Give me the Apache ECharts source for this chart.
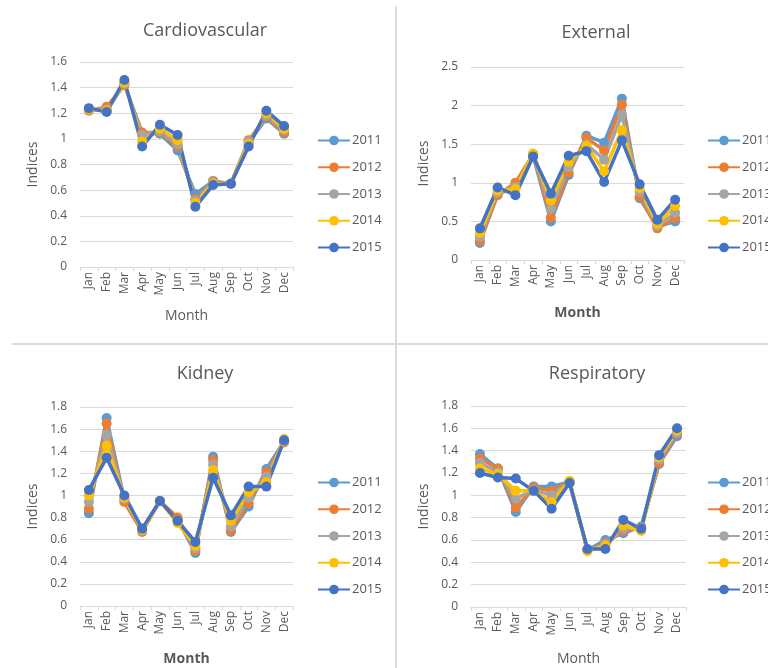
<!DOCTYPE html>
<html>
<head>
<meta charset="utf-8">
<script src="https://cdn.jsdelivr.net/npm/echarts@6/dist/echarts.min.js"></script>
<style>
  html, body { margin: 0; padding: 0; background: #fff; }
  #chart { width: 768px; height: 668px; }
</style>
</head>
<body>
<div id="chart"></div>
<script>
// months on every x axis
const months = ['Jan', 'Feb', 'Mar', 'Apr', 'May', 'Jun', 'Jul', 'Aug', 'Sep', 'Oct', 'Nov', 'Dec'];
const years = ['2011', '2012', '2013', '2014', '2015'];
const yearColors = ['#5B9BD5', '#ED7D31', '#A5A5A5', '#FFC000', '#4472C4'];

// Cardiovascular indices, one row per year
const cardio2011 = [1.23, 1.22, 1.43, 1.04, 1.04, 0.91, 0.57, 0.67, 0.65, 0.97, 1.16, 1.04];
const cardio2012 = [1.22, 1.25, 1.42, 1.05, 1.05, 0.94, 0.53, 0.67, 0.65, 0.99, 1.17, 1.05];
const cardio2013 = [1.23, 1.23, 1.43, 1.03, 1.06, 0.96, 0.52, 0.66, 0.65, 0.98, 1.18, 1.07];
const cardio2014 = [1.23, 1.22, 1.44, 0.98, 1.08, 0.99, 0.50, 0.65, 0.65, 0.96, 1.20, 1.08];
const cardio2015 = [1.24, 1.21, 1.46, 0.94, 1.11, 1.03, 0.47, 0.64, 0.65, 0.94, 1.22, 1.10];

// External indices
const ext2011 = [0.22, 0.85, 0.95, 1.35, 0.50, 1.10, 1.61, 1.52, 2.09, 0.80, 0.43, 0.50];
const ext2012 = [0.25, 0.84, 1.00, 1.37, 0.55, 1.13, 1.58, 1.42, 2.01, 0.82, 0.41, 0.54];
const ext2013 = [0.30, 0.87, 0.95, 1.36, 0.66, 1.20, 1.50, 1.30, 1.88, 0.88, 0.44, 0.61];
const ext2014 = [0.35, 0.90, 0.92, 1.38, 0.77, 1.27, 1.48, 1.15, 1.68, 0.93, 0.47, 0.70];
const ext2015 = [0.41, 0.94, 0.84, 1.34, 0.86, 1.35, 1.41, 1.01, 1.55, 0.98, 0.52, 0.78];

// Kidney indices
const kid2011 = [0.84, 1.70, 0.96, 0.68, 0.95, 0.78, 0.48, 1.35, 0.67, 0.90, 1.24, 1.49];
const kid2012 = [0.88, 1.65, 0.94, 0.67, 0.95, 0.80, 0.50, 1.32, 0.68, 0.93, 1.21, 1.48];
const kid2013 = [0.94, 1.55, 0.97, 0.68, 0.95, 0.77, 0.52, 1.28, 0.72, 0.98, 1.17, 1.49];
const kid2014 = [1.00, 1.45, 0.98, 0.69, 0.95, 0.75, 0.54, 1.23, 0.77, 1.03, 1.12, 1.51];
const kid2015 = [1.05, 1.34, 1.00, 0.70, 0.95, 0.77, 0.58, 1.16, 0.82, 1.08, 1.08, 1.50];

// Respiratory indices
const resp2011 = [1.37, 1.24, 0.85, 1.08, 1.08, 1.12, 0.51, 0.60, 0.66, 0.72, 1.28, 1.53];
const resp2012 = [1.33, 1.24, 0.89, 1.07, 1.04, 1.12, 0.51, 0.57, 0.68, 0.71, 1.29, 1.55];
const resp2013 = [1.29, 1.21, 0.97, 1.05, 1.00, 1.12, 0.51, 0.56, 0.70, 0.70, 1.32, 1.56];
const resp2014 = [1.24, 1.19, 1.04, 1.04, 0.94, 1.13, 0.50, 0.55, 0.73, 0.68, 1.34, 1.58];
const resp2015 = [1.20, 1.16, 1.15, 1.04, 0.88, 1.11, 0.52, 0.52, 0.78, 0.70, 1.36, 1.60];

const panels = [
  { title: 'Cardiovascular', data: [cardio2011, cardio2012, cardio2013, cardio2014, cardio2015],
    grid: { left: 80, top: 62, width: 213, height: 205 }, max: 1.6, interval: 0.2,
    titlePos: [200, 17], legendPos: [317, 134], boldX: false, xGap: 42 },
  { title: 'External', data: [ext2011, ext2012, ext2013, ext2014, ext2015],
    grid: { left: 471, top: 67, width: 213, height: 193 }, max: 2.5, interval: 0.5,
    titlePos: [591, 19], legendPos: [707, 134], boldX: true, xGap: 46 },
  { title: 'Kidney', data: [kid2011, kid2012, kid2013, kid2014, kid2015],
    grid: { left: 80, top: 407, width: 213, height: 199 }, max: 1.8, interval: 0.2,
    titlePos: [200, 360], legendPos: [317, 476], boldX: true, xGap: 46 },
  { title: 'Respiratory', data: [resp2011, resp2012, resp2013, resp2014, resp2015],
    grid: { left: 471, top: 406, width: 215, height: 201 }, max: 1.8, interval: 0.2,
    titlePos: [592, 360], legendPos: [707, 476], boldX: false, xGap: 45 }
];

const font = 'Open Sans';
const grey = '#595959';

const option = {
  animation: false,
  backgroundColor: '#fff',
  color: yearColors,
  title: panels.map(p => ({
    text: p.title,
    left: p.titlePos[0], top: p.titlePos[1],
    textAlign: 'center',
    textStyle: { fontFamily: font, fontSize: 18, fontWeight: 'normal', color: grey }
  })),
  legend: panels.map(p => ({
    data: years,
    orient: 'vertical',
    left: p.legendPos[0], top: p.legendPos[1],
    padding: 0,
    itemWidth: 32, itemHeight: 12, itemGap: 13.75,
    textStyle: { fontFamily: font, fontSize: 13, color: grey, padding: [0, 0, 0, -3] }
  })),
  grid: panels.map(p => Object.assign({ containLabel: false }, p.grid)),
  xAxis: panels.map((p, i) => ({
    type: 'category', gridIndex: i, data: months,
    name: 'Month', nameLocation: 'middle', nameGap: p.xGap,
    nameTextStyle: { fontFamily: font, fontSize: 14, color: grey, fontWeight: p.boldX ? 'bold' : 'normal' },
    axisLine: { lineStyle: { color: '#d9d9d9' } },
    axisTick: { show: true, length: 4, lineStyle: { color: '#d9d9d9' } },
    axisLabel: { rotate: 90, fontFamily: font, fontSize: 12, color: grey, margin: 5 }
  })),
  yAxis: panels.map((p, i) => ({
    type: 'value', gridIndex: i, min: 0, max: p.max, interval: p.interval,
    name: 'Indices', nameLocation: 'middle', nameGap: 40,
    nameTextStyle: { fontFamily: font, fontSize: 14, color: grey },
    axisLine: { show: false }, axisTick: { show: false },
    axisLabel: { fontFamily: font, fontSize: 12, color: grey, margin: 13 },
    splitLine: { lineStyle: { color: '#d9d9d9', width: 1 } }
  })),
  series: [],
  graphic: [
    { type: 'line', shape: { x1: 396, y1: 6, x2: 396, y2: 668 }, style: { stroke: '#dcdcdc', lineWidth: 2 } },
    { type: 'line', shape: { x1: 12, y1: 344, x2: 768, y2: 344 }, style: { stroke: '#dcdcdc', lineWidth: 2 } }
  ]
};

panels.forEach((p, i) => {
  p.data.forEach((vals, k) => {
    option.series.push({
      name: years[k], type: 'line',
      xAxisIndex: i, yAxisIndex: i,
      data: vals,
      symbol: 'circle', symbolSize: 10,
      lineStyle: { width: 3.5, color: yearColors[k] },
      itemStyle: { color: yearColors[k] }
    });
  });
});

const chart = echarts.init(document.getElementById('chart'));
chart.setOption(option);
window.addEventListener('resize', chart.resize);
</script>
</body>
</html>
